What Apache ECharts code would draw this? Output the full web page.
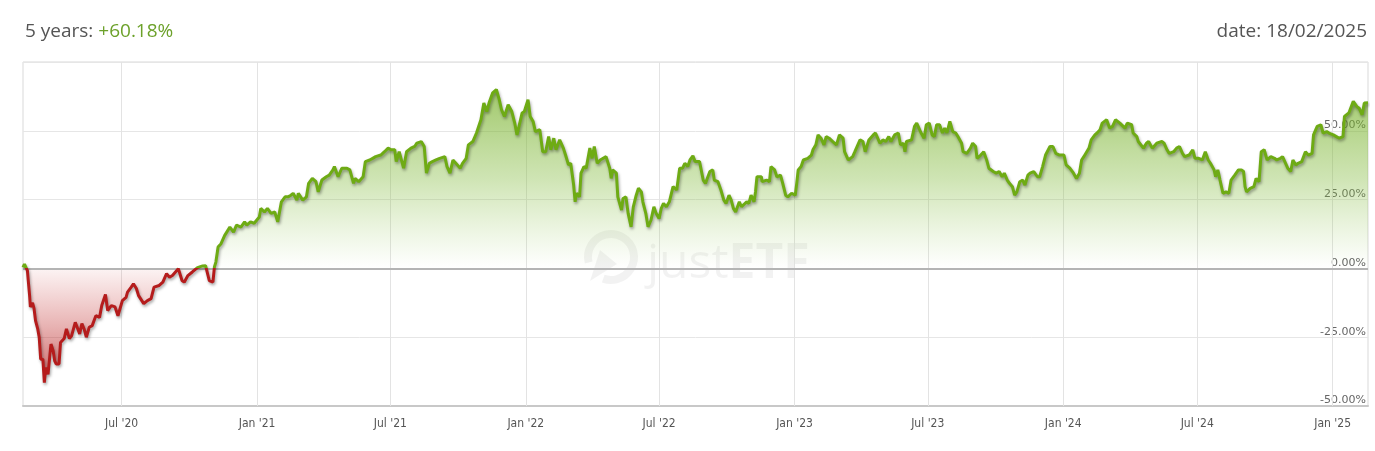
<!DOCTYPE html>
<html>
<head>
<meta charset="utf-8">
<script src="https://cdn.jsdelivr.net/npm/echarts@6.0.0/dist/echarts.min.js"></script>
<style>
html,body{margin:0;padding:0;background:#fff;}
#chart{width:1375px;height:451px;}
</style>
</head>
<body>
<div id="chart"></div>
<script>
const dates = [
'2020-02-18','2020-02-20','2020-02-21','2020-02-24','2020-02-25','2020-02-27','2020-02-28','2020-03-02','2020-03-04','2020-03-06',
'2020-03-09','2020-03-11','2020-03-13','2020-03-16','2020-03-18','2020-03-20','2020-03-23','2020-03-27','2020-03-30','2020-04-01',
'2020-04-03','2020-04-07','2020-04-09','2020-04-14','2020-04-17','2020-04-21','2020-04-24','2020-04-29','2020-05-05','2020-05-08',
'2020-05-11','2020-05-14','2020-05-18','2020-05-22','2020-05-27','2020-06-01','2020-06-04','2020-06-09','2020-06-12','2020-06-17',
'2020-06-22','2020-06-26','2020-07-02','2020-07-07','2020-07-09','2020-07-14','2020-07-17','2020-07-21','2020-07-24','2020-07-31',
'2020-08-05','2020-08-10','2020-08-14','2020-08-21','2020-08-26','2020-08-31','2020-09-04','2020-09-08','2020-09-16','2020-09-21',
'2020-09-24','2020-09-29','2020-10-05','2020-10-12','2020-10-19','2020-10-23','2020-10-28','2020-11-02','2020-11-04','2020-11-06',
'2020-11-09','2020-11-11','2020-11-13','2020-11-18','2020-11-25','2020-11-30','2020-12-04','2020-12-10','2020-12-15','2020-12-18',
'2020-12-23','2020-12-28','2021-01-04','2021-01-06','2021-01-11','2021-01-15','2021-01-20','2021-01-25','2021-01-29','2021-02-03',
'2021-02-08','2021-02-12','2021-02-16','2021-02-19','2021-02-24','2021-02-26','2021-03-04','2021-03-09','2021-03-12','2021-03-17',
'2021-03-22','2021-03-25','2021-03-30','2021-04-05','2021-04-09','2021-04-14','2021-04-16','2021-04-21','2021-04-26','2021-05-03',
'2021-05-07','2021-05-12','2021-05-14','2021-05-19','2021-05-25','2021-05-28','2021-06-03','2021-06-07','2021-06-11','2021-06-18',
'2021-06-23','2021-06-28','2021-07-02','2021-07-07','2021-07-09','2021-07-13','2021-07-19','2021-07-23','2021-07-29','2021-08-03',
'2021-08-06','2021-08-12','2021-08-16','2021-08-19','2021-08-23','2021-08-27','2021-09-01','2021-09-06','2021-09-13','2021-09-16',
'2021-09-20','2021-09-24','2021-09-28','2021-10-04','2021-10-07','2021-10-12','2021-10-15','2021-10-21','2021-10-26','2021-11-01',
'2021-11-05','2021-11-09','2021-11-12','2021-11-17','2021-11-22','2021-11-26','2021-11-29','2021-12-03','2021-12-08','2021-12-13',
'2021-12-17','2021-12-20','2021-12-27','2021-12-30','2022-01-04','2022-01-07','2022-01-11','2022-01-14','2022-01-20','2022-01-24',
'2022-01-28','2022-02-01','2022-02-04','2022-02-08','2022-02-11','2022-02-16','2022-02-21','2022-02-24','2022-02-28','2022-03-03',
'2022-03-07','2022-03-09','2022-03-11','2022-03-15','2022-03-17','2022-03-21','2022-03-24','2022-03-29','2022-04-01','2022-04-04',
'2022-04-08','2022-04-12','2022-04-14','2022-04-20','2022-04-25','2022-04-27','2022-04-29','2022-05-04','2022-05-06','2022-05-11',
'2022-05-13','2022-05-17','2022-05-20','2022-05-24','2022-05-27','2022-05-31','2022-06-03','2022-06-07','2022-06-09','2022-06-13',
'2022-06-16','2022-06-20','2022-06-24','2022-06-27','2022-07-01','2022-07-04','2022-07-07','2022-07-11','2022-07-15','2022-07-20',
'2022-07-25','2022-07-29','2022-08-02','2022-08-05','2022-08-09','2022-08-12','2022-08-16','2022-08-19','2022-08-25','2022-08-30',
'2022-09-02','2022-09-08','2022-09-12','2022-09-14','2022-09-19','2022-09-23','2022-09-27','2022-09-30','2022-10-04','2022-10-07',
'2022-10-10','2022-10-13','2022-10-18','2022-10-21','2022-10-28','2022-10-31','2022-11-03','2022-11-07','2022-11-09','2022-11-11',
'2022-11-17','2022-11-18','2022-11-24','2022-11-28','2022-11-30','2022-12-05','2022-12-08','2022-12-13','2022-12-16','2022-12-20',
'2022-12-23','2022-12-28','2023-01-02','2023-01-04','2023-01-06','2023-01-10','2023-01-13','2023-01-19','2023-01-24','2023-01-26',
'2023-01-30','2023-02-02','2023-02-06','2023-02-10','2023-02-13','2023-02-17','2023-02-22','2023-02-27','2023-03-03','2023-03-08',
'2023-03-10','2023-03-15','2023-03-21','2023-03-24','2023-03-31','2023-04-04','2023-04-07','2023-04-12','2023-04-18','2023-04-21',
'2023-04-27','2023-05-01','2023-05-05','2023-05-09','2023-05-12','2023-05-17','2023-05-22','2023-05-25','2023-05-29','2023-05-31',
'2023-06-02','2023-06-09','2023-06-13','2023-06-16','2023-06-22','2023-06-26','2023-06-29','2023-07-03','2023-07-07','2023-07-10',
'2023-07-13','2023-07-17','2023-07-21','2023-07-24','2023-07-27','2023-07-31','2023-08-04','2023-08-08','2023-08-11','2023-08-16',
'2023-08-18','2023-08-23','2023-08-28','2023-08-31','2023-09-04','2023-09-06','2023-09-11','2023-09-13','2023-09-15','2023-09-19',
'2023-09-22','2023-09-28','2023-10-02','2023-10-06','2023-10-10','2023-10-13','2023-10-17','2023-10-20','2023-10-24','2023-10-27',
'2023-10-30','2023-11-03','2023-11-07','2023-11-10','2023-11-14','2023-11-17','2023-11-22','2023-11-27','2023-11-30','2023-12-04',
'2023-12-08','2023-12-14','2023-12-18','2023-12-22','2023-12-27','2024-01-02','2024-01-05','2024-01-10','2024-01-15','2024-01-19',
'2024-01-23','2024-01-26','2024-01-29','2024-02-02','2024-02-05','2024-02-08','2024-02-13','2024-02-16','2024-02-20','2024-02-23',
'2024-02-29','2024-03-04','2024-03-08','2024-03-12','2024-03-18','2024-03-20','2024-03-25','2024-03-28','2024-04-03','2024-04-05',
'2024-04-10','2024-04-12','2024-04-19','2024-04-23','2024-04-26','2024-05-01','2024-05-07','2024-05-14','2024-05-17','2024-05-21',
'2024-05-24','2024-05-30','2024-06-03','2024-06-07','2024-06-11','2024-06-14','2024-06-20','2024-06-25','2024-06-28','2024-07-03',
'2024-07-08','2024-07-12','2024-07-16','2024-07-19','2024-07-24','2024-07-26','2024-07-29','2024-08-01','2024-08-05','2024-08-09',
'2024-08-13','2024-08-16','2024-08-21','2024-08-26','2024-08-30','2024-09-02','2024-09-04','2024-09-06','2024-09-11','2024-09-16',
'2024-09-19','2024-09-23','2024-09-26','2024-09-30','2024-10-04','2024-10-09','2024-10-14','2024-10-17','2024-10-22','2024-10-25',
'2024-10-30','2024-11-01','2024-11-05','2024-11-08','2024-11-12','2024-11-15','2024-11-20','2024-11-25','2024-11-29','2024-12-04',
'2024-12-06','2024-12-11','2024-12-16','2024-12-19','2024-12-24','2024-12-27','2025-01-02','2025-01-06','2025-01-10','2025-01-15',
'2025-01-17','2025-01-23','2025-01-29','2025-02-03','2025-02-06','2025-02-10','2025-02-13','2025-02-18'
];
const values = [
0.4,1.6,1.0,-0.8,-4,-10,-14,-12.5,-14.6,-19,
-22,-25,-33,-33,-41.5,-36,-38.5,-27.5,-30,-33.6,
-34.7,-34.7,-26.9,-25.5,-22,-25.5,-24.5,-19.6,-23.8,-20,
-22,-25,-21.4,-20.8,-17.2,-17.8,-13.5,-9.5,-15.3,-13.5,
-14,-17.2,-11.7,-10.5,-8.6,-6.8,-5.6,-7.3,-9.9,-12.8,
-11.7,-11,-6.8,-6.2,-5,-1.9,-3.2,-2.6,-0.1,-4.4,
-5,-2.6,-1.3,0.3,0.9,1.0,-4.4,-5,0.5,2.3,
7.8,8.4,9,12,15,13.2,15.7,15,16.9,15.7,
16.9,16.4,18.7,21.8,20.5,21.8,20,20.5,16.9,24.2,
26,26,26.6,27.3,24.8,27.3,24.8,26,30.9,32.7,
31.5,27.8,32.1,33.3,33.9,35.8,37,33.3,36.4,36.4,
35.8,30.9,32.7,31.5,33.3,38.8,39.4,40,40.6,41.2,
42.4,43.7,43.1,43.1,38.8,42.4,36.4,42.4,43.7,44.3,
45.5,46.1,44.3,34.6,38.2,38.8,39.4,40,40.6,37,
34.6,39.4,38.2,36.4,38.2,40,44.9,46.1,49.2,54,
60.1,57,60.1,63.8,65,61.3,57.7,55.2,59.5,57,
52.8,48.5,56.5,57,61.3,55.2,53.4,49.7,50.4,42.4,
42.4,47.9,43.1,47.3,43.1,46.7,43.7,41.2,37.6,38.2,
30.3,24.2,27.3,26,34.6,37,36.4,43.7,40,44.3,
38.2,39.4,40,40.6,36.4,32.7,35.8,34.6,26,21.2,
25.4,26,20,15.1,22.4,26.6,29.1,27.8,24.2,20,
15.1,17.5,22.4,20,18.1,21.8,23.6,22.4,24.2,29.7,
28.5,36.4,36.4,38.2,37,39.4,40.9,38.8,38.8,32.1,
30.9,35.2,35.8,32.1,31.5,28.5,24.8,23.6,26.6,24.8,
21.8,20.5,24.2,22.4,24.2,23.6,26.6,24.2,27.8,33.3,
33.3,31.5,32.1,31.5,37,35.8,33.3,33.9,30.9,26.6,
26,27.3,26.6,30.9,35.8,37,39.4,40,41.2,43.1,
44.9,48.5,47.3,44.9,47.9,47.3,46.1,44.9,48.5,47.3,
42.4,39.4,40.6,42.4,46.7,46.1,42.4,46.7,48.5,49.2,
45.5,46.7,46.1,47.9,46.1,48.5,49.2,44.9,45.5,42.4,
46.1,46.7,51.6,52.8,49.2,47.3,52.2,52.8,48.5,47.9,
52.2,52.2,49.2,51,49.2,53.4,49.7,49.2,47.9,45.5,
42.4,41.8,43.7,45.5,44.3,40,41.2,40.6,42.4,39.4,
36.4,35.2,34.6,35.2,33.3,34.6,32.1,30.9,29.7,26.6,
27.8,31.5,32.1,30.3,33.9,34.6,35.2,33.3,33.3,37,
41.2,44.3,44.3,41.8,41.2,41.2,37.6,36.4,34.6,32.7,
34.6,39.4,40.6,42.4,43.7,46.7,48.5,49.2,50.4,52.8,
54,51,51.6,54,52.8,52.8,51,52.8,52.2,49.2,
47.9,46.1,43.7,45.5,46.1,43.7,45.5,46.1,45.5,43.1,
41.8,42.4,43.7,44.3,41.8,40.6,41.2,43.1,40,40,
39.4,42.4,39.4,38.2,35.8,33.3,35.8,32.1,27.3,27.8,
27.3,32.1,33.9,35.8,35.8,35.2,29.7,27.8,29.1,29.7,
32.7,31.5,42.4,43.1,39.4,40.6,40,39.4,40,40.6,
37.6,36.4,35.2,39.4,37.6,38.2,38.8,42.4,41.2,41.8,
48.5,51.6,52.2,49.2,49.7,49.2,48.5,47.9,47.3,47.9,
55.2,56.5,60.7,58.8,58.2,55.8,60.1,60.18
];
const tickDates = ['2020-07-01','2021-01-01','2021-07-01','2022-01-01','2022-07-01','2023-01-01','2023-07-01','2024-01-01','2024-07-01','2025-01-01'];
const tickLabels = ["Jul '20","Jan '21","Jul '21","Jan '22","Jul '22","Jan '23","Jul '23","Jan '24","Jul '24","Jan '25"];
const periodLabel = '5 years: ';
const periodReturn = '+60.18%';
const dateLabel = 'date: 18/02/2025';
const startDate = '2020-02-18';
const endDate = '2025-02-18';

const GREEN = '#6eab14';
const RED = '#b51c1c';

const toTime = d => echarts.time.parse(d).getTime();
const chart = echarts.init(document.getElementById('chart'));
const times = dates.map(toTime);
const lineData = times.map((t, i) => [t, values[i]]);
const posData = times.map((t, i) => [t, Math.max(values[i], 0)]);
const negData = times.map((t, i) => [t, Math.min(values[i], 0)]);
const tickTimes = tickDates.map(toTime);

const option = {
  animation: false,
  backgroundColor: '#fff',
  textStyle: { fontFamily: 'Open Sans' },
  title: [
    {
      left: 20, top: 17,
      text: '{a|' + periodLabel + '}{b|' + periodReturn + '}',
      textStyle: {
        fontWeight: 'normal',
        rich: {
          a: { fontFamily: 'Open Sans', fontSize: 19, fontWeight: 'normal', color: '#555' },
          b: { fontFamily: 'Open Sans', fontSize: 19, fontWeight: 'normal', color: '#6ca12a' }
        }
      }
    },
    {
      right: 3, top: 17,
      text: dateLabel,
      textStyle: { fontFamily: 'Open Sans', fontSize: 19, fontWeight: 'normal', color: '#555' }
    }
  ],
  grid: {
    left: 23, right: 7, top: 62, bottom: 45,
    show: true, borderColor: '#d9d9d9', borderWidth: 1
  },
  graphic: [
    {
      type: 'group', z: 1, silent: true,
      children: [
        { type: 'arc', shape: { cx: 611, cy: 257, r: 23, startAngle: 2.9, endAngle: 8.2, clockwise: true },
          style: { stroke: 'rgba(0,0,0,0.05)', lineWidth: 8, fill: 'none' } },
        { type: 'polygon', shape: { points: [[590, 281], [600, 250], [617, 264]] },
          style: { fill: 'rgba(0,0,0,0.05)' } },
        { type: 'text', x: 647, y: 240,
          style: {
            text: '{n|just}{b|ETF}',
            rich: {
              n: { fontFamily: 'Open Sans', fontSize: 48, fontWeight: 'normal', fill: 'rgba(0,0,0,0.05)' },
              b: { fontFamily: 'Open Sans', fontSize: 48, fontWeight: 'bold', fill: 'rgba(0,0,0,0.05)' }
            }
          } }
      ]
    }
  ],
  xAxis: {
    type: 'value',
    min: toTime(startDate),
    max: toTime(endDate),
    axisLine: { show: true, onZero: false, lineStyle: { color: '#c8c8c8', width: 2 } },
    axisTick: { show: false },
    splitLine: { show: false },
    axisLabel: {
      customValues: tickTimes,
      formatter: function (val) {
        const i = tickTimes.indexOf(val);
        return i >= 0 ? tickLabels[i] : '';
      },
      color: '#555',
      fontFamily: 'Liberation Sans Narrow, DejaVu Sans Condensed, Open Sans',
      fontSize: 12,
      margin: 12
    }
  },
  yAxis: {
    type: 'value',
    position: 'right',
    min: -50, max: 75, interval: 25,
    axisLine: { show: false },
    axisTick: { show: false },
    splitLine: { show: true, lineStyle: { color: '#e6e6e6', width: 1 } },
    axisLabel: {
      inside: true,
      margin: 2,
      verticalAlign: 'bottom',
      color: '#666',
      fontFamily: 'DejaVu Sans',
      fontSize: 11,
      formatter: function (v) { return v >= 75 ? '' : v.toFixed(2) + '%'; }
    }
  },
  series: [
    {
      id: 'pos', type: 'line', data: posData, z: 2,
      showSymbol: false, symbol: 'none', silent: true,
      lineStyle: { width: 0 },
      areaStyle: {
        origin: 0,
        color: new echarts.graphic.LinearGradient(0, 0, 0, 1, [
          { offset: 0, color: 'rgba(112,172,30,0.95)' },
          { offset: 0.5, color: 'rgba(130,186,60,0.55)' },
          { offset: 1, color: 'rgba(150,200,90,0.0)' }
        ])
      },
      markLine: {
        z: 1, silent: true, symbol: ['none', 'none'], label: { show: false },
        lineStyle: { color: '#e3e3e3', width: 1, type: 'solid' },
        data: tickTimes.map(t => ({ xAxis: t }))
      }
    },
    {
      id: 'neg', type: 'line', data: negData, z: 2,
      showSymbol: false, symbol: 'none', silent: true,
      lineStyle: { width: 0 },
      areaStyle: {
        origin: 0,
        color: new echarts.graphic.LinearGradient(0, 0, 0, 1, [
          { offset: 0, color: 'rgba(200,50,50,0.08)' },
          { offset: 0.5, color: 'rgba(190,40,40,0.5)' },
          { offset: 1, color: 'rgba(175,25,25,0.95)' }
        ])
      },
      markLine: {
        z: 3, silent: true, symbol: ['none', 'none'], label: { show: false },
        lineStyle: { color: '#b4b4b4', width: 2, type: 'solid' },
        data: [{ yAxis: 0 }]
      }
    },
    {
      id: 'perf', type: 'line', data: lineData, z: 4,
      showSymbol: false, symbol: 'none',
      lineStyle: {
        width: 3, color: GREEN,
        shadowColor: 'rgba(0,0,0,0.35)', shadowBlur: 3, shadowOffsetX: 1, shadowOffsetY: 2
      }
    }
  ]
};
chart.setOption(option);

// colour the performance line red below 0 and green above, split at the axis's own 0 position
const yTop = chart.convertToPixel({ yAxisIndex: 0 }, 75);
const yBottom = chart.convertToPixel({ yAxisIndex: 0 }, -50);
const yZero = chart.convertToPixel({ yAxisIndex: 0 }, 0);
const split = (yZero - yTop) / (yBottom - yTop);
chart.setOption({
  series: [{
    id: 'perf',
    lineStyle: {
      color: new echarts.graphic.LinearGradient(0, yTop, 0, yBottom, [
        { offset: 0, color: GREEN },
        { offset: split, color: GREEN },
        { offset: split, color: RED },
        { offset: 1, color: RED }
      ], true)
    }
  }]
});
</script>
</body>
</html>
